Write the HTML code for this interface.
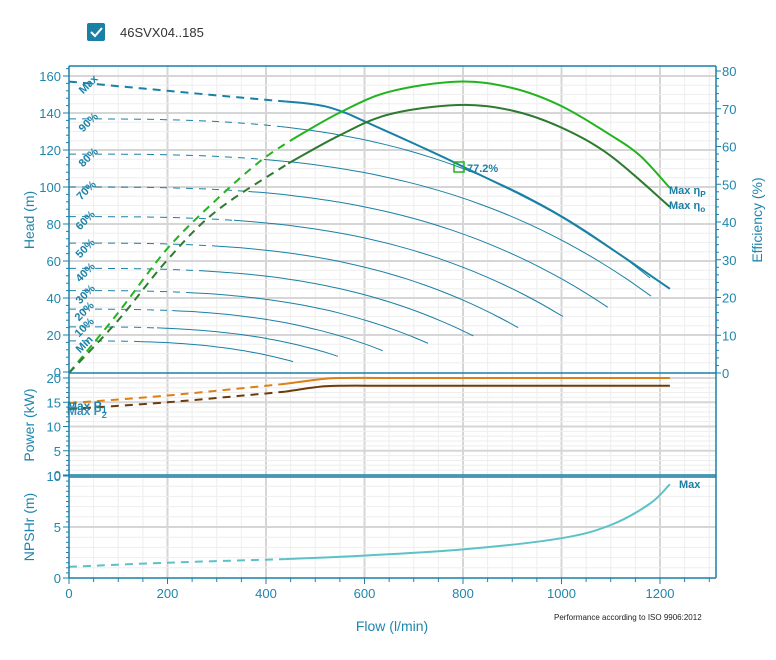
<!DOCTYPE html>
<html><head><meta charset="utf-8"><style>
html,body{margin:0;padding:0;background:#fff;}
svg{display:block;font-family:"Liberation Sans","DejaVu Sans",sans-serif;}
</style></head><body>
<svg id="s" width="776" height="660" viewBox="0 0 776 660" xmlns="http://www.w3.org/2000/svg">
<rect width="776" height="660" fill="#fff"/>
<rect x="87" y="23" width="18" height="18" rx="2" fill="#1a80a6"/>
<path d="M91 32 l4 4 l7 -8" stroke="#fff" stroke-width="2" fill="none"/>
<text x="120" y="37" font-size="13" fill="#333">46SVX04..185</text>
<g id="grid"></g>
<g id="curves"></g>
<g id="axes"></g>
<text x="554" y="620" font-size="8" fill="#222">Performance according to ISO 9906:2012</text>
<text x="392" y="631" font-size="14" fill="#1f86ae" text-anchor="middle">Flow (l/min)</text>
<text transform="translate(34,220) rotate(-90)" font-size="14" fill="#1f86ae" text-anchor="middle">Head (m)</text>
<text transform="translate(34,425) rotate(-90)" font-size="14" fill="#1f86ae" text-anchor="middle">Power (kW)</text>
<text transform="translate(34,527) rotate(-90)" font-size="14" fill="#1f86ae" text-anchor="middle">NPSHr (m)</text>
<text transform="translate(762,220) rotate(-90)" font-size="14" fill="#1f86ae" text-anchor="middle">Efficiency (%)</text>
</svg>
<script>
var NS="http://www.w3.org/2000/svg";
function el(p,t,a,txt){var e=document.createElementNS(NS,t);for(var k in a)e.setAttribute(k,a[k]);if(txt!=null)e.textContent=txt;(typeof p=="string"?document.getElementById(p):p).appendChild(e);return e;}
function X(q){return 69+0.4925*q;}
function YH(h){return 372-1.85*h;}
function YE(e){return 373-3.775*e;}
function YP(p){return 475-4.85*p;}
function YN(n){return 578-10.2*n;}
var AX="#1a80a6",TX="#1f86ae";
for(var q=50;q<1312;q+=50){var maj=q%200==0;
 el("grid","line",{x1:X(q),x2:X(q),y1:66,y2:578,stroke:maj?"#d6d6d6":"#eeeeee","stroke-width":maj?2:1});}
for(var h=5;h<=160;h+=5){var maj=h%20==0;el("grid","line",{x1:69,x2:716,y1:YH(h),y2:YH(h),stroke:maj?"#d6d6d6":"#eeeeee","stroke-width":maj?2:1});}
for(var p=1;p<=20;p+=1){var maj=p%5==0;el("grid","line",{x1:69,x2:716,y1:YP(p),y2:YP(p),stroke:maj?"#d6d6d6":"#eeeeee","stroke-width":maj?2:1});}
for(var n=1;n<=10;n+=1){var maj=n%5==0;el("grid","line",{x1:69,x2:716,y1:YN(n),y2:YN(n),stroke:maj?"#d6d6d6":"#eeeeee","stroke-width":maj?2:1});}
function path(pts){var d="M"+pts[0][0].toFixed(1)+" "+pts[0][1].toFixed(1);
 for(var i=0;i<pts.length-1;i++){var p0=pts[i-1]||pts[i],p1=pts[i],p2=pts[i+1],p3=pts[i+2]||p2;
  var c1=[p1[0]+(p2[0]-p0[0])/6,p1[1]+(p2[1]-p0[1])/6],c2=[p2[0]-(p3[0]-p1[0])/6,p2[1]-(p3[1]-p1[1])/6];
  d+=" C"+c1[0].toFixed(1)+" "+c1[1].toFixed(1)+" "+c2[0].toFixed(1)+" "+c2[1].toFixed(1)+" "+p2[0].toFixed(1)+" "+p2[1].toFixed(1);}
 return d;}
function series(data,fy,split,color,w,dash){
 var a=[],b=[];data.forEach(function(d){if(d[0]<=split)a.push([X(d[0]),fy(d[1])]);if(d[0]>=split)b.push([X(d[0]),fy(d[1])]);});
 if(a.length>1)el("curves","path",{d:path(a),stroke:color,"stroke-width":w,fill:"none","stroke-dasharray":dash});
 if(b.length>1)el("curves","path",{d:path(b),stroke:color,"stroke-width":w,fill:"none"});}
var thin=[[136.8,1180,null,430],[117.8,1182,41,400],[100,1094,35,365],[84,1003,30,335],[69.7,912,24,300],[56,821,19.5,270],[44,729,15.5,240],[34,637,11.5,210],[24.4,546,8.5,180],[16.8,455,5.6,145]];
thin.forEach(function(c,i){var h0=c[0],qe=c[1],he=c[2];
 if(i==0){he=h0-(h0-110)/Math.pow(800/1180,3);}
 var d=[];for(var k=0;k<=24;k++){var q=qe*k/24;d.push([q,h0-(h0-he)*Math.pow(q/qe,3)]);}
 d.push([c[3],h0-(h0-he)*Math.pow(c[3]/qe,3)]);d.sort(function(a,b){return a[0]-b[0];});
 series(d,YH,c[3],"#1a80a6",1,"7,6");});
series([[0,157],[100,154.5],[200,152],[300,149.5],[440,146.2],[480,145.3],[520,143.6],[560,140.2],[600,135.5],[700,123.5],[800,111],[1000,84],[1220,45]],YH,440,"#1a80a6",2,"8,6");
series([[0,0],[100,16],[200,33],[300,46],[387,56],[455,62],[550,69],[650,74.5],[790,77.2],[900,75.5],[1000,70.7],[1100,63],[1160,57.5],[1220,49]],YE,455,"#22b41e",2,"8,6");
series([[0,0],[100,14],[200,30],[300,43],[445,55.5],[550,63],[650,68.5],[790,71],[900,69.5],[1000,65],[1100,57.5],[1220,44]],YE,445,"#2e7a30",2,"8,6");
series([[0,14.8],[200,16.4],[440,18.8],[500,19.6],[550,20],[700,20],[1220,20]],YP,440,"#dd7f12",2,"8,6");
series([[0,13.6],[200,15],[440,17.2],[500,18.1],[550,18.4],[700,18.4],[1220,18.4]],YP,440,"#6b3b0a",2,"8,6");
series([[0,1.1],[200,1.5],[440,1.85],[600,2.2],[800,2.8],[1000,3.9],[1100,5.2],[1180,7.3],[1220,9.2]],YN,440,"#5cc2c8",2,"8,6");
el("curves","rect",{x:454,y:162,width:10,height:10,fill:"none",stroke:"#22b41e","stroke-width":1.5});
el("curves","text",{x:467,y:172,"font-size":11,"font-weight":"bold",fill:"#1a80a6"},"77.2%");
var labs=[["Max",88,84],["90%",88,122],["80%",88,157],["70%",86,190],["60%",85,220],["50%",85,248],["40%",85,272],["30%",85,294],["20%",84,311],["10%",84,327],["Min",84,344]];
labs.forEach(function(l){el("curves","text",{x:l[1],y:l[2]+4,"font-size":11,"font-weight":"bold",fill:"#1a80a6","text-anchor":"middle",transform:"rotate(-45 "+l[1]+" "+l[2]+")"},l[0]);});
function sublab(x,y,main,sub,fs,op){var t=el("curves","text",{x:x,y:y,"font-size":fs,"font-weight":"bold",fill:"#1a80a6",opacity:op||1});
 el(t,"tspan",{},main);el(t,"tspan",{"font-size":fs*0.75,dy:3},sub);}
sublab(669,194,"Max  η","P",11);
sublab(669,209,"Max  η","o",11);
sublab(67,410,"Max P","1",12);
sublab(67,415,"Max P","2",12,0.85);
el("curves","text",{x:679,y:488,"font-size":11,"font-weight":"bold",fill:"#1a80a6"},"Max");
var L={stroke:AX,"stroke-width":1.5};
el("axes","line",Object.assign({x1:69,x2:716,y1:66,y2:66},L));
el("axes","line",Object.assign({x1:69,x2:69,y1:66,y2:578},L));
el("axes","line",Object.assign({x1:716,x2:716,y1:66,y2:578},L));
el("axes","line",Object.assign({x1:69,x2:716,y1:578,y2:578},L));
el("axes","line",Object.assign({x1:69,x2:716,y1:373,y2:373},L));
el("axes","line",Object.assign({x1:69,x2:716,y1:475,y2:475},L));
el("axes","line",Object.assign({x1:69,x2:716,y1:477,y2:477},L));
function tick(x,y,len,horiz){if(horiz)el("axes","line",{x1:x,x2:x-len,y1:y,y2:y,stroke:AX,"stroke-width":1});else el("axes","line",{x1:x,x2:x,y1:y,y2:y+len,stroke:AX,"stroke-width":1});}
for(var h=0;h<=164;h+=4){tick(69,YH(h),h%20==0?6:3,true);}
for(var h=0;h<=160;h+=20)el("axes","text",{x:61,y:YH(h)+5,"font-size":13,fill:TX,"text-anchor":"end"},h);
for(var e=0;e<=80;e+=2){el("axes","line",{x1:716,x2:716+(e%10==0?5:3),y1:YE(e),y2:YE(e),stroke:AX,"stroke-width":1});}
for(var e=0;e<=80;e+=10)el("axes","text",{x:722,y:YE(e)+5,"font-size":13,fill:TX},e);
for(var p=0;p<=20;p+=1){tick(69,YP(p),p%5==0?6:3,true);}
for(var p=0;p<=20;p+=5)el("axes","text",{x:61,y:YP(p)+5,"font-size":13,fill:TX,"text-anchor":"end"},p);
for(var n=0;n<=10;n+=0.5){tick(69,YN(n),n%5==0?6:3,true);}
for(var n=0;n<=10;n+=5)el("axes","text",{x:61,y:YN(n)+5,"font-size":13,fill:TX,"text-anchor":"end"},n);
for(var q=0;q<=1300;q+=50){tick(X(q),578,q%200==0?6:4,false);}
for(var q=0;q<=1200;q+=200)el("axes","text",{x:X(q),y:598,"font-size":13,fill:TX,"text-anchor":"middle"},q);
</script>
</body></html>
